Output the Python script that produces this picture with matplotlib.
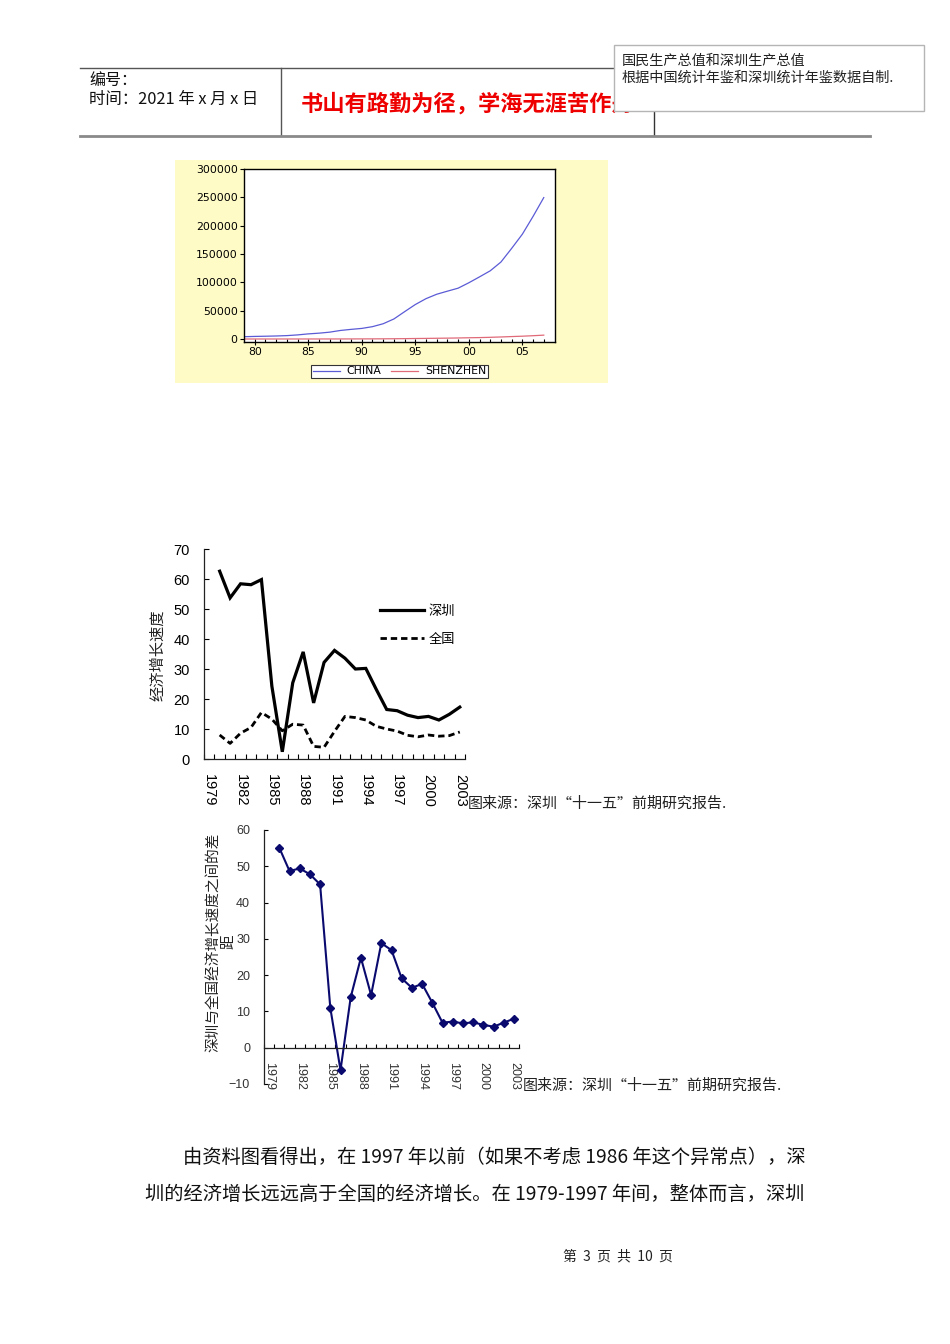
import numpy as np
import matplotlib
matplotlib.use('Agg')
import matplotlib.pyplot as plt
from matplotlib.patches import Rectangle
from matplotlib.lines import Line2D

CJK = ['Noto Sans CJK SC', 'DejaVu Sans']
plt.rcParams['font.family'] = CJK

# ---------------- data ----------------
gdp_years = list(range(1979, 2008))
china_gdp = [4063, 4546, 4892, 5323, 5963, 7208, 9016, 10275, 12059, 15043,
             16992, 18668, 21781, 26923, 35334, 48198, 60794, 71177, 78973,
             84402, 89677, 99215, 109655, 120333, 135823, 159878, 184937,
             216314, 249530]
shenzhen_gdp = [1.96, 2.70, 4.96, 8.26, 13.12, 23.42, 39.02, 41.65, 55.90,
                86.98, 115.66, 171.67, 236.66, 317.32, 453.14, 634.67, 842.48,
                1048.44, 1297.42, 1534.73, 1804.02, 2187.45, 2482.49, 2969.52,
                3585.72, 4282.14, 4950.91, 5813.56, 6801.57]
gdp_ticks = [80, 85, 90, 95, 0, 5]
gdp_tick_labels = ['80', '85', '90', '95', '00', '05']
gdp_series_names = ['CHINA', 'SHENZHEN']

growth_years = list(range(1979, 2004))
nan = np.nan
sz_growth = [nan, 62.6, 53.7, 58.4, 58.1, 59.8, 24.3, 2.4, 25.4, 35.7, 18.7,
             32.2, 36.2, 33.6, 30.0, 30.2, 23.2, 16.5, 16.1, 14.6, 13.8, 14.2,
             13.0, 14.9, 17.3]
cn_growth = [nan, 8.0, 5.2, 8.6, 10.5, 15.5, 13.3, 9.4, 11.6, 11.3, 4.2, 3.9,
             9.2, 14.2, 13.8, 13.0, 10.9, 10.0, 9.3, 7.9, 7.4, 8.0, 7.6, 7.8,
             9.0]
growth_names = ['深圳', '全国']
gap = [nan, 55.1, 48.7, 49.4, 47.8, 45.0, 11.0, -6.2, 13.9, 24.8, 14.5, 28.8,
       26.9, 19.1, 16.5, 17.6, 12.4, 6.9, 7.2, 6.7, 7.0, 6.3, 5.8, 6.9, 8.0]
shown_years = [1979, 1982, 1985, 1988, 1991, 1994, 1997, 2000, 2003]

# ---------------- helpers ----------------
W, H = 950, 1344
fig = plt.figure(figsize=(W / 100, H / 100), dpi=100)
fig.patch.set_facecolor('white')


def fx(x):
    return x / W


def fy(y):
    return 1 - y / H


def axes_px(l, t, r, b, **kw):
    return fig.add_axes([l / W, 1 - b / H, (r - l) / W, (b - t) / H], **kw)


def hline(x0, x1, y, **kw):
    fig.add_artist(Line2D([fx(x0), fx(x1)], [fy(y), fy(y)], transform=fig.transFigure, **kw))


def vline(x, y0, y1, **kw):
    fig.add_artist(Line2D([fx(x), fx(x)], [fy(y0), fy(y1)], transform=fig.transFigure, **kw))


def text(x, y, s, **kw):
    kw.setdefault('va', 'center')
    kw.setdefault('family', CJK)
    fig.text(fx(x), fy(y), s, **kw)


# ---------------- header ----------------
hline(80, 614, 68, color='#555555', lw=1)
vline(281, 68, 135, color='#555555', lw=1)
vline(654, 105, 135, color='#333333', lw=1)
hline(80, 870, 135.5, color='#8a8a8a', lw=2)
text(89, 80, '编号：', fontsize=11.5, color='#111111')
text(89, 99, '时间：2021 年 x 月 x 日', fontsize=11.8, color='#111111')
text(301, 104, '书山有路勤为径，学海无涯苦作舟', fontsize=16, color='#ee0000',
     fontweight='bold')
fig.add_artist(Rectangle((fx(614), fy(111)), (924 - 614) / W, (111 - 45) / H,
                         transform=fig.transFigure, facecolor='white',
                         edgecolor='#b5b5b5', lw=1, zorder=10))
text(622, 61, '国民生产总值和深圳生产总值', fontsize=10.2, color='#222222', zorder=11)
text(622, 78, '根据中国统计年鉴和深圳统计年鉴数据自制.', fontsize=10.2, color='#222222', zorder=11)

# ---------------- chart 1 ----------------
fig.add_artist(Rectangle((fx(175), fy(383)), (608 - 175) / W, (383 - 160) / H,
                         transform=fig.transFigure, facecolor='#fffbc6',
                         edgecolor='none', zorder=0))
ax1 = axes_px(244, 169, 555, 342)
ax1.set_facecolor('white')
x1 = np.array(gdp_years, dtype=float)
l_cn, = ax1.plot(x1, china_gdp, color='#5b5bd6', lw=0.9)
l_sz, = ax1.plot(x1, shenzhen_gdp, color='#e06a78', lw=0.9)
ax1.set_xlim(1979, 2008.05)
ax1.set_ylim(-5300, 300000)
ax1.set_yticks(np.arange(0, 300001, 50000))
ax1.set_yticklabels([str(v) for v in range(0, 300001, 50000)],
                    family='DejaVu Sans', fontsize=7.8)
ax1.set_xticks([1900 + t if t >= 50 else 2000 + t for t in gdp_ticks])
ax1.set_xticklabels(gdp_tick_labels, family='DejaVu Sans', fontsize=7.8)
ax1.set_xticks(np.arange(1980, 2008), minor=True)
ax1.tick_params(axis='y', direction='out', length=3, width=0.8, pad=1.5)
ax1.tick_params(axis='x', which='major', direction='inout', length=5, width=0.8, pad=1)
ax1.tick_params(axis='x', which='minor', direction='in', length=2.5, width=0.8)
for s in ax1.spines.values():
    s.set_linewidth(1.0)
    s.set_color('black')
leg1 = ax1.legend([l_cn, l_sz], gdp_series_names, ncol=2, loc='center',
                  bbox_to_anchor=(fx(399.5), fy(371.5)), bbox_transform=fig.transFigure,
                  prop={'family': 'DejaVu Sans', 'size': 7.8}, fancybox=False,
                  frameon=True, edgecolor='#333333', framealpha=1,
                  borderpad=0.15, handlelength=2.5, handletextpad=0.6,
                  columnspacing=0.9, borderaxespad=0)
leg1.get_frame().set_linewidth(0.8)

# ---------------- chart 2 ----------------
ax2 = axes_px(204, 549, 465, 759)
xi = np.arange(len(growth_years))
l2a, = ax2.plot(xi, sz_growth, color='black', lw=2.3, solid_joinstyle='miter')
l2b, = ax2.plot(xi, cn_growth, color='black', lw=2.0, dashes=(2.3, 1.4))
ax2.set_xlim(-0.5, len(growth_years) - 0.5)
ax2.set_ylim(0, 70)
ax2.set_yticks(range(0, 71, 10))
ax2.set_yticklabels([str(v) for v in range(0, 71, 10)], family='Liberation Sans',
                    fontsize=10.5)
ax2.set_xticks([growth_years.index(y) for y in shown_years])
ax2.set_xticklabels([str(y) for y in shown_years], rotation=270,
                    family='Liberation Sans', fontsize=10.5, va='top', ha='center')
ax2.set_xticks(np.arange(-0.5, len(growth_years)), minor=True)
ax2.tick_params(axis='x', which='major', length=0, pad=11)
ax2.tick_params(axis='x', which='minor', direction='in', length=3.5, width=0.8)
ax2.tick_params(axis='y', direction='in', length=3.5, width=0.8, pad=10)
for s in ['top', 'right']:
    ax2.spines[s].set_visible(False)
for s in ['left', 'bottom']:
    ax2.spines[s].set_linewidth(0.9)
    ax2.spines[s].set_color('#222222')
ax2.patch.set_alpha(0)
ax2.legend([l2a, l2b], growth_names, loc='center left',
           bbox_to_anchor=(fx(380), fy(625.5)), bbox_transform=fig.transFigure,
           frameon=False, prop={'family': CJK, 'size': 9.5}, borderpad=0,
           borderaxespad=0, handlelength=3.3, handletextpad=0.4, labelspacing=1.15)
text(158, 655, '经济增长速度', fontsize=11, rotation=90, ha='center', color='#222222')
text(468, 804, '图来源：深圳“十一五”前期研究报告.', fontsize=10.8, color='#222222')

# ---------------- chart 3 ----------------
ax3 = axes_px(264, 830, 519, 1084)
ax3.plot(xi, gap, color='#0a0a6e', lw=1.5, marker='D', markersize=4.5,
         markerfacecolor='#0a0a6e', markeredgecolor='#0a0a6e')
ax3.set_xlim(-0.5, len(growth_years) - 0.5)
ax3.set_ylim(-10, 60)
ax3.set_yticks(range(-10, 61, 10))
ax3.set_yticklabels(['\u221210'] + [str(v) for v in range(0, 61, 10)],
                    family='Liberation Sans', fontsize=9, color='#333333')
ax3.spines['bottom'].set_position(('data', 0))
ax3.set_xticks([growth_years.index(y) for y in shown_years])
ax3.set_xticklabels([str(y) for y in shown_years], rotation=270,
                    family='Liberation Sans', fontsize=9, va='top', ha='center',
                    color='#333333')
ax3.set_xticks(np.arange(-0.5, len(growth_years)), minor=True)
ax3.tick_params(axis='x', which='major', length=0, pad=10)
ax3.tick_params(axis='x', which='minor', direction='in', length=3, width=0.8)
ax3.tick_params(axis='y', direction='in', length=3, width=0.8, pad=10)
for s in ['top', 'right']:
    ax3.spines[s].set_visible(False)
for s in ['left', 'bottom']:
    ax3.spines[s].set_linewidth(0.9)
    ax3.spines[s].set_color('#222222')
ax3.patch.set_alpha(0)
text(221, 942, '深圳与全国经济增长速度之间的差\n距', fontsize=10.5, rotation=90,
     ha='center', multialignment='center', color='#222222', linespacing=1.0)
text(523, 1086, '图来源：深圳“十一五”前期研究报告.', fontsize=10.8, color='#222222')

# ---------------- body text ----------------
text(183, 1157, '由资料图看得出，在 1997 年以前（如果不考虑 1986 年这个异常点），深',
     fontsize=13.85, color='#111111')
text(145, 1194, '圳的经济增长远远高于全国的经济增长。在 1979-1997 年间，整体而言，深圳',
     fontsize=13.85, color='#111111')
text(563, 1256, '第  3  页  共  10  页', fontsize=10, color='#222222')

fig.savefig('out.png', dpi=100, facecolor='white')
